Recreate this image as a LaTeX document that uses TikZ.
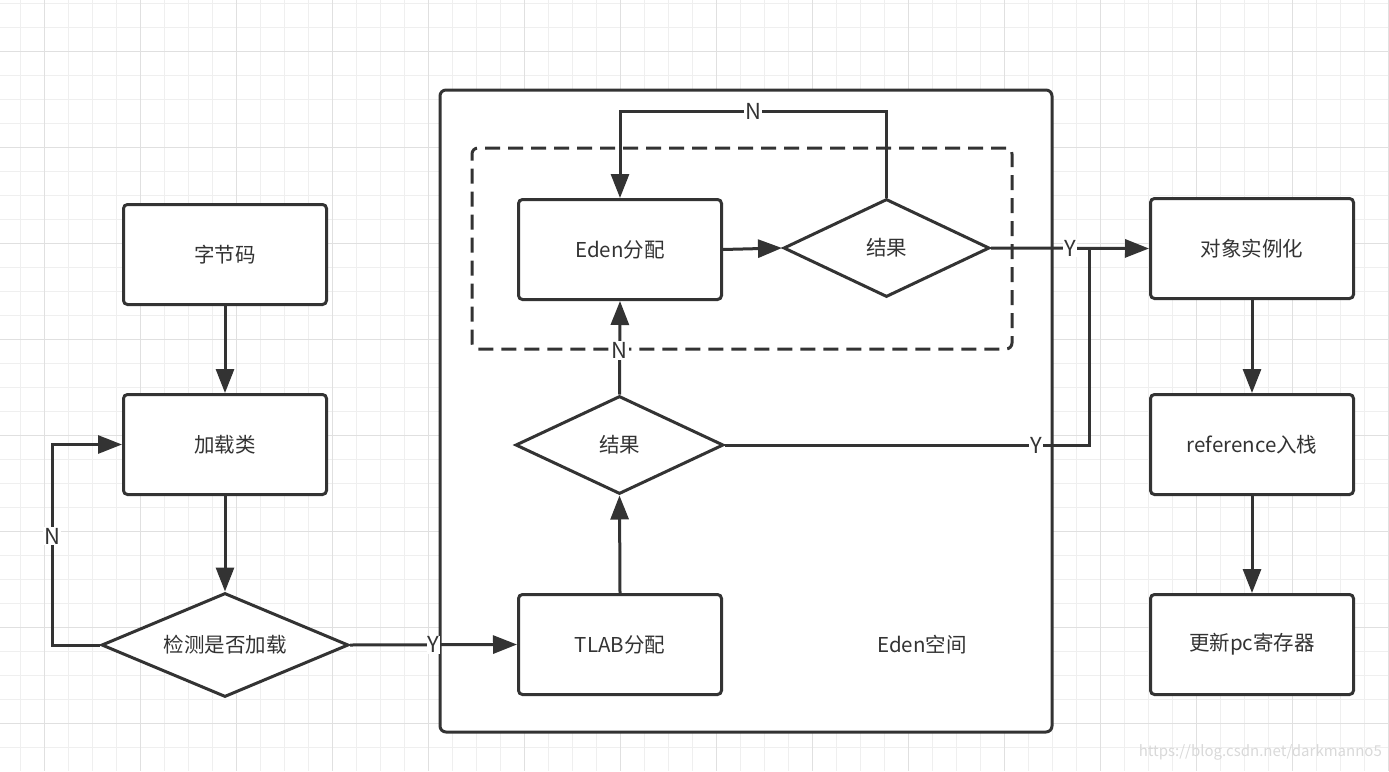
\documentclass[tikz,border=0pt]{standalone}
\usepackage{fontspec}
\setmainfont{Noto Sans CJK SC}
\usetikzlibrary{arrows.meta,shapes.geometric}
\definecolor{dk}{HTML}{333333}
\definecolor{gminor}{HTML}{EFEFEF}
\definecolor{gmajor}{HTML}{E0E0E0}
\newcommand{\fs}{\fontsize{20.5}{24}\selectfont}
\newcommand{\fl}{\fontsize{22}{26}\selectfont}
\tikzset{
  box/.style={draw=dk, line width=3pt, fill=white, rounded corners=4pt,
    minimum width=203pt, minimum height=100pt, inner sep=0pt, font=\fs, text=dk},
  dec/.style={shape=diamond, draw=dk, line width=3pt, fill=white, inner sep=0pt, font=\fs, text=dk},
  con/.style={draw=dk, line width=3pt},
  arr/.style={con, -{Triangle[length=24pt,width=18pt]}},
  lbl/.style={fill=white, inner sep=1pt, text=dk, font=\fl},
}
\begin{document}
\begin{tikzpicture}[x=1pt,y=-1pt]
\useasboundingbox (0,0) rectangle (1389,771);
\fill[white] (0,0) rectangle (1389,771);
% grid
\foreach \i in {0,...,57} \draw[gminor, line width=1pt] ({20.5+24*\i},0) -- ++(0,771);
\foreach \i in {0,...,31} \draw[gminor, line width=1pt] (0,{3.3+24*\i}) -- ++(1389,0);
\foreach \i in {0,...,14} \draw[gmajor, line width=1pt] ({44.5+96*\i},0) -- ++(0,771);
\foreach \i in {0,...,7} \draw[gmajor, line width=1pt] (0,{51.3+96*\i}) -- ++(1389,0);
% containers
\node[draw=dk, line width=3pt, fill=white, rounded corners=6pt, minimum width=612pt, minimum height=642pt, inner sep=0pt] (space) at (746,411) {};
\node[draw=dk, line width=3pt, dash pattern=on 15pt off 8pt, rounded corners=6pt, minimum width=540pt, minimum height=201pt, inner sep=0pt] (dash) at (742,248.5) {};
\node[font=\fs, text=dk] (spacelbl) at (922,645) {Eden空间};
% left column
\node[box] (zj) at (225,254.5) {字节码};
\node[box] (jzl) at (225,444.5) {加载类};
\node[dec, aspect=2.36, minimum width=247pt, minimum height=104pt] (jc) at (225,645) {检测是否加载};
% middle
\node[box] (tlab) at (620,644.5) {TLAB分配};
\node[dec, aspect=2.12, minimum width=208pt, minimum height=98pt] (d2) at (619.5,445) {结果};
\node[box] (eden) at (620,249.5) {Eden分配};
\node[dec, aspect=2.12, minimum width=206pt, minimum height=98pt] (d1) at (886.5,248) {结果};
% right column
\node[box] (obj) at (1252,248.5) {对象实例化};
\node[box] (ref) at (1252,444.5) {reference入栈};
\node[box] (pc) at (1252,644.5) {更新pc寄存器};
% connectors
\draw[arr] (zj) -- (jzl);
\draw[arr] (jzl) -- (jc);
\draw[arr] (jc.west) -| ++(-48,-100) |- (jzl.west);
\node[lbl] at (52,536) {N};
\draw[arr] (jc.east) -- node[lbl]{Y} (tlab.west);
\draw[arr] (tlab.north) -- (d2.south);
\draw[arr] (d2.north) -- node[lbl, pos=0.47]{N} (eden.south);
\draw[arr] (eden.east) -- (d1.west);
\draw[arr] (d1.north) -- ++(0,-86) -| node[lbl, pos=0.25]{N} (eden.north);
\draw[arr] (d1.east) -- node[lbl]{Y} (obj.west);
\draw[con] (d2.east) -| node[lbl, pos=0.427]{Y} (1089,248);
\draw[arr] (obj) -- (ref);
\draw[arr] (ref) -- (pc);
% watermark
\node[anchor=east, text=gray!30, font=\fontsize{15}{18}\selectfont, inner sep=0pt] (wm) at (1382,752) {https://blog.csdn.net/darkmanno5};
\end{tikzpicture}
\end{document}
